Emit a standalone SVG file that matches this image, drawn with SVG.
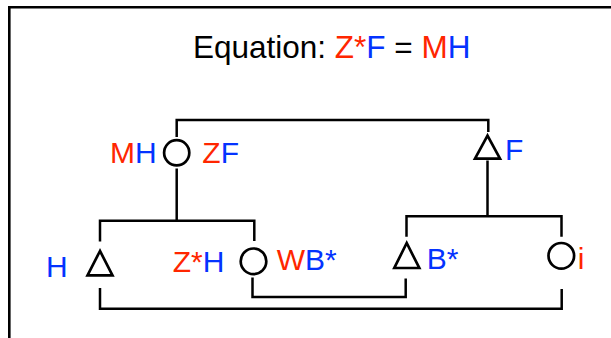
<svg xmlns="http://www.w3.org/2000/svg" width="611" height="338" viewBox="0 0 611 338">
  <style>
    .frame { fill: none; stroke: #000; stroke-width: 2.6; }
    .conn { fill: none; stroke: #000; stroke-width: 2.5; stroke-linejoin: miter; stroke-linecap: butt; }
    .shape { fill: #fff; stroke: #000; stroke-width: 2.7; stroke-linejoin: miter; }
    text { font-family: "Liberation Sans", Arial, Helvetica, sans-serif; font-size: 30px; }
    .title { font-size: 31.5px; fill: #000; }
    .r { fill: #ff2600; }
    .b { fill: #0433ff; }
  </style>
  <rect width="611" height="338" fill="#fff"/>
  <path class="frame" d="M9.3 340 V7.3 H613"/>
  <text class="title" x="193" y="58.3">Equation: <tspan class="r">Z*</tspan><tspan class="b">F</tspan> = <tspan class="r">M</tspan><tspan class="b">H</tspan></text>

  <g id="connectors">
    <path class="conn" d="M176.7 137 V120 H488.3 V132"/>
    <path class="conn" d="M176.7 168.5 V220.7"/>
    <path class="conn" d="M100 241.5 V220.7 H254.3 V241"/>
    <path class="conn" d="M100 288 V308.8 H561.7 V289"/>
    <path class="conn" d="M252.5 277.5 V297 H405.7 V278.5"/>
    <path class="conn" d="M487.5 160.5 V216.3"/>
    <path class="conn" d="M406.5 236.7 V216.3 H561.5 V236.7"/>
  </g>

  <g id="node-MH">
    <circle class="shape" cx="176.7" cy="152.8" r="12.6"/>
    <text x="110" y="162.5"><tspan class="r">M</tspan><tspan class="b">H</tspan></text>
    <text x="202.3" y="162.5"><tspan class="r">Z</tspan><tspan class="b">F</tspan></text>
  </g>
  <g id="node-F">
    <polygon class="shape" points="487.5,135.7 475,158.7 500,158.7"/>
    <text class="b" x="505" y="160">F</text>
  </g>
  <g id="node-H">
    <polygon class="shape" points="100,251 87.5,275.4 112.5,275.4"/>
    <text class="b" x="46" y="276.7">H</text>
  </g>
  <g id="node-ZH">
    <circle class="shape" cx="253.5" cy="261.3" r="12.8"/>
    <text x="172.7" y="271.7"><tspan class="r">Z*</tspan><tspan class="b">H</tspan></text>
    <text x="276.7" y="270"><tspan class="r">W</tspan><tspan class="b">B*</tspan></text>
  </g>
  <g id="node-B">
    <polygon class="shape" points="406.7,243 394.3,268 419.3,268"/>
    <text class="b" x="426.7" y="269.3">B*</text>
  </g>
  <g id="node-i">
    <circle class="shape" cx="561.3" cy="255.8" r="12.8"/>
    <text class="r" x="577.7" y="269.3">i</text>
  </g>
</svg>
